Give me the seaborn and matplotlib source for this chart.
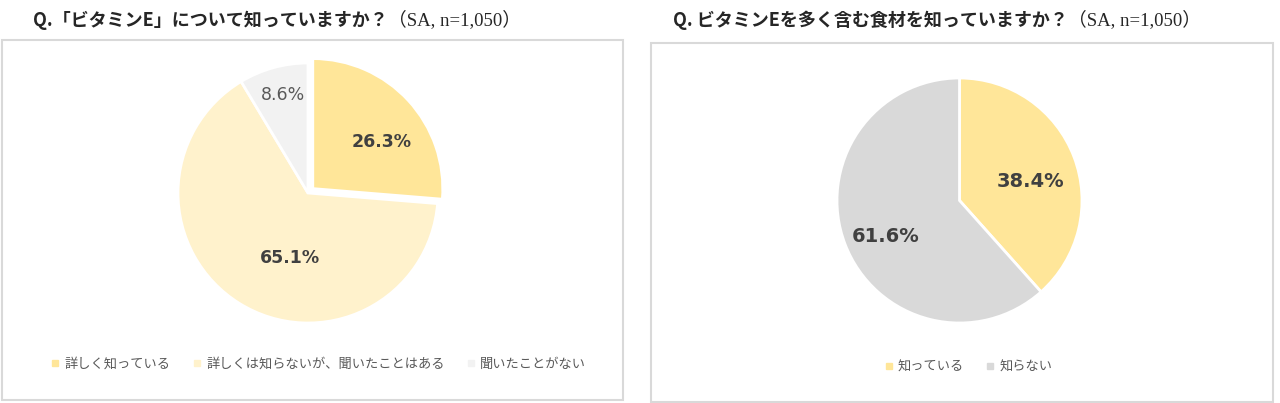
import matplotlib
matplotlib.use("Agg")
import matplotlib.pyplot as plt
import seaborn as sns
from matplotlib.lines import Line2D
from matplotlib.patches import Rectangle

# data
q1_labels = ["詳しく知っている", "詳しくは知らないが、聞いたことはある", "聞いたことがない"]
q1_values = [26.3, 65.1, 8.6]
q1_colors = ["#FFE699", "#FFF2CC", "#F2F2F2"]
q1_title = "Q.「ビタミンE」について知っていますか？"

q2_labels = ["知っている", "知らない"]
q2_values = [38.4, 61.6]
q2_colors = ["#FFE699", "#D9D9D9"]
q2_title = "Q. ビタミンEを多く含む食材を知っていますか？"

sample_note = "（SA, n=1,050）"

sns.set_theme(style="white")
plt.rcParams['font.family'] = ['Noto Sans CJK JP', 'DejaVu Sans']

W, H = 1280, 403
fig = plt.figure(figsize=(W / 100, H / 100), dpi=100)
fig.patch.set_facecolor("white")

# panel frames
for x0, y0, x1, y1 in [(2, 40, 623, 400), (651, 43, 1273, 402)]:
    fig.patches.append(Rectangle((x0 / W, 1 - y1 / H), (x1 - x0) / W, (y1 - y0) / H,
                                 transform=fig.transFigure, fill=False,
                                 edgecolor="#D9D9D9", lw=1.5))


def pie_axes(cx, cy, r):
    side = 2.6 * r
    return fig.add_axes([(cx - side / 2) / W, (H - cy - side / 2) / H, side / W, side / H])


def label_style(txts, bold_flags, nudges, size):
    # Excel-like label placement: small nudges off the default pctdistance spot
    for t, b, (dx, dy) in zip(txts, bold_flags, nudges):
        x, y = t.get_position()
        t.set_position((x + dx, y + dy))
        t.set_family(['DejaVu Sans'])
        t.set_fontsize(size)
        t.set_color("#404040" if b else "#595959")
        t.set_fontweight("bold" if b else "normal")


# left pie
ax1 = pie_axes(308, 193, 130)
w1, _, a1 = ax1.pie(q1_values, colors=q1_colors, startangle=90, counterclock=False,
                    explode=[0.05, 0, 0], radius=1, autopct="%.1f%%", pctdistance=0.62,
                    wedgeprops=dict(edgecolor="white", linewidth=2))
label_style(a1, [True, True, False], [(0.07, -0.06), (0.19, 0.025), (-0.03, 0.16)], 12.5)
ax1.set_xlim(-1.3, 1.3)
ax1.set_ylim(-1.3, 1.3)
ax1.set_aspect("equal")
ax1.axis("off")

# right pie
ax2 = pie_axes(959.5, 200.5, 122.5)
w2, _, a2 = ax2.pie(q2_values, colors=q2_colors, startangle=90, counterclock=False,
                    radius=1, autopct="%.1f%%", pctdistance=0.62,
                    wedgeprops=dict(edgecolor="white", linewidth=2))
label_style(a2, [True, True], [(0.0, -0.065), (-0.02, -0.07)], 14)
ax2.set_xlim(-1.3, 1.3)
ax2.set_ylim(-1.3, 1.3)
ax2.set_aspect("equal")
ax2.axis("off")

# titles
for x, title in [(33, q1_title), (673, q2_title)]:
    tt = fig.text(x / W, 1 - 20 / H, title, fontsize=13, fontweight="bold",
                  color="#262626", va="center", ha="left")
    ax1.annotate(sample_note, xy=(1, 0.5), xycoords=tt, va="center", ha="left",
                 fontsize=13.5, color="#262626",
                 family=['Liberation Serif', 'Noto Sans CJK JP'])

# legends
def make_legend(labels, colors, cx, cy):
    handles = [Line2D([], [], marker="s", linestyle="", markersize=4.5, color=c)
               for c in colors]
    fig.legend(handles, labels, loc="center", bbox_to_anchor=(cx / W, 1 - cy / H),
               ncol=len(labels), frameon=False, fontsize=9.5, handletextpad=0.3,
               columnspacing=1.6, handlelength=0.8, labelcolor="#595959")

make_legend(q1_labels, q1_colors, 318, 364)
make_legend(q2_labels, q2_colors, 968, 367)

fig.savefig("out.png", dpi=100, facecolor="white")
